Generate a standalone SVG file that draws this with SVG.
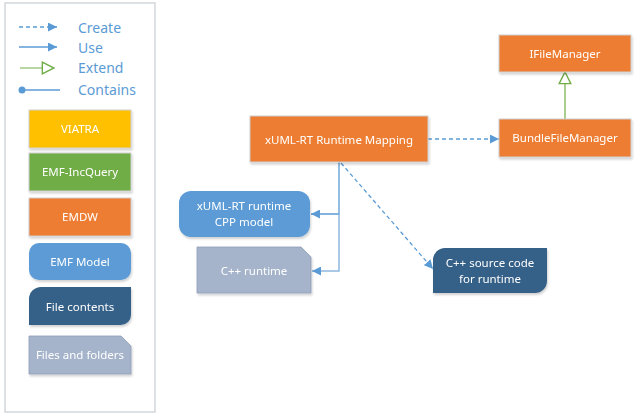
<svg xmlns="http://www.w3.org/2000/svg" width="637" height="420" viewBox="0 0 637 420">
<defs>
<style>
.t{font-family:"Noto Sans","Open Sans","DejaVu Sans",sans-serif;font-size:11.5px;fill:#fff;text-anchor:middle}
.lg{font-family:"Noto Sans","Open Sans","DejaVu Sans",sans-serif;font-size:14px;fill:#5b9bd5}
.b{stroke:#d0d0d0;stroke-width:1}
.use{stroke:#5b9bd5;stroke-width:1.3;fill:none}
.cr{stroke:#5b9bd5;stroke-width:1.3;fill:none;stroke-dasharray:4,3}
</style>
<marker id="af" viewBox="0 0 10 10" refX="10" refY="5" markerWidth="9" markerHeight="9" markerUnits="userSpaceOnUse" orient="auto"><path d="M0,0 L10,5 L0,10 z" fill="#5b9bd5"/></marker>
<marker id="ae" viewBox="0 0 12 12" refX="11" refY="6" markerWidth="14" markerHeight="14" markerUnits="userSpaceOnUse" orient="auto"><path d="M1,1 L11,6 L1,11 z" fill="#fff" stroke="#70ad47" stroke-width="1.2"/></marker>
<filter id="sh" x="-10%" y="-10%" width="130%" height="140%"><feDropShadow dx="1" dy="2" stdDeviation="1.2" flood-color="#000" flood-opacity="0.18"/></filter>
</defs>
<rect width="637" height="420" fill="#fff"/>
<g id="legend">
<rect x="5" y="3" width="150" height="409" fill="#fff" stroke="#d3d7dc" stroke-width="1.5"/>
<line x1="19" y1="27" x2="57" y2="27" class="cr" marker-end="url(#af)"/>
<text x="78" y="33" class="lg">Create</text>
<line x1="19" y1="47" x2="57" y2="47" class="use" marker-end="url(#af)"/>
<text x="78" y="53" class="lg">Use</text>
<line x1="20" y1="68" x2="54" y2="68" stroke="#70ad47" stroke-width="1.2" marker-end="url(#ae)"/>
<text x="78" y="73" class="lg">Extend</text>
<circle cx="22" cy="90" r="3.5" fill="#5b9bd5"/>
<line x1="22" y1="90" x2="60" y2="90" class="use"/>
<text x="78" y="95" class="lg">Contains</text>
</g>
<g id="leg-viatra" filter="url(#sh)"><rect x="29" y="110" width="102" height="38" fill="#ffc000" class="b"/><text x="80" y="133" class="t">VIATRA</text></g>
<g id="leg-incquery" filter="url(#sh)"><rect x="29" y="153" width="102" height="38" fill="#70ad47" class="b"/><text x="80" y="176" class="t">EMF-IncQuery</text></g>
<g id="leg-emdw" filter="url(#sh)"><rect x="29" y="198" width="102" height="38" fill="#ed7d31" class="b"/><text x="80" y="221" class="t">EMDW</text></g>
<g id="leg-emfmodel" filter="url(#sh)"><rect x="29" y="243" width="102" height="37" rx="10" fill="#5b9bd5"/><text x="80" y="266" class="t">EMF Model</text></g>
<g id="leg-filecontents" filter="url(#sh)"><path d="M41,287 H131 V315 A10,10 0 0 1 121,325 H29 V299 A12,12 0 0 1 41,287 z" fill="#356087"/><text x="80" y="311" class="t">File contents</text></g>
<g id="leg-files" filter="url(#sh)"><path d="M29,336 H121 L131,346 V374 H29 z" fill="#a5b4cb" stroke="#8f9fb8" stroke-width="0.8"/><text x="80" y="359" class="t">Files and folders</text></g>

<g id="connectors">
<line x1="428" y1="139" x2="499" y2="139" class="cr" marker-end="url(#af)"/>
<line x1="565" y1="119" x2="565" y2="72" stroke="#70ad47" stroke-width="1.2" marker-end="url(#ae)"/>
<polyline points="339,162 339,214 311,214" class="use" marker-end="url(#af)"/>
<polyline points="339,214 339,271 312,271" stroke="#8fb8e0" stroke-width="1.5" fill="none" marker-end="url(#af)"/>
<line x1="341" y1="163" x2="433" y2="269" class="cr" marker-end="url(#af)"/>
</g>

<g id="mapping" filter="url(#sh)"><rect x="250" y="116" width="178" height="46" fill="#ed7d31" class="b"/><text x="339" y="144" class="t">xUML-RT Runtime Mapping</text></g>
<g id="ifilemanager" filter="url(#sh)"><rect x="499" y="35" width="132" height="37" fill="#ed7d31" class="b"/><text x="565" y="58" class="t">IFileManager</text></g>
<g id="bundlefilemanager" filter="url(#sh)"><rect x="499" y="119" width="132" height="38" fill="#ed7d31" class="b"/><text x="565" y="142" class="t">BundleFileManager</text></g>
<g id="cppmodel" filter="url(#sh)"><rect x="179" y="191" width="131" height="46" rx="12" fill="#5b9bd5"/><text x="244" y="210" class="t">xUML-RT runtime</text><text x="244" y="226" class="t">CPP model</text></g>
<g id="cppruntime" filter="url(#sh)"><path d="M197,247 H301 L311,257 V293 H197 z" fill="#a5b4cb" stroke="#8f9fb8" stroke-width="0.8"/><text x="254" y="275" class="t">C++ runtime</text></g>
<g id="cppsource" filter="url(#sh)"><path d="M445,248 H547 V281 A12,12 0 0 1 535,293 H433 V260 A12,12 0 0 1 445,248 z" fill="#356087"/><text x="490" y="267" class="t">C++ source code</text><text x="490" y="283" class="t">for runtime</text></g>
</svg>
